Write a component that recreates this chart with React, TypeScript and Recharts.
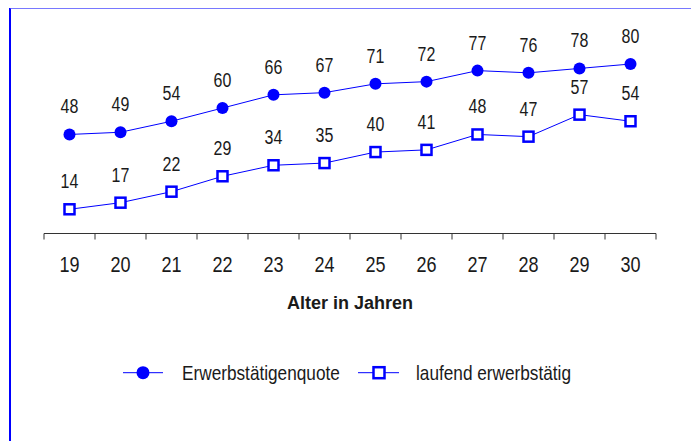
import { LabelList, Line, LineChart, XAxis, YAxis } from "recharts";

const ages = [19, 20, 21, 22, 23, 24, 25, 26, 27, 28, 29, 30];
const erwerbsquote = [48, 49, 54, 60, 66, 67, 71, 72, 77, 76, 78, 80];
const laufend = [14, 17, 22, 29, 34, 35, 40, 41, 48, 47, 57, 54];
const seriesNames = ["Erwerbstätigenquote", "laufend erwerbstätig"];

const data = ages.map((age, i) => ({ age, quote: erwerbsquote[i], laufend: laufend[i] }));
// boundary ticks between the age categories
const boundaryTicks = [...ages.map((a) => a - 0.5), ages[ages.length - 1] + 0.5];

const BLUE = "#0000ff";
const SANS = '"Liberation Sans", Arial, sans-serif';
const TEXT = "#1a1a1a";
const SQUEEZE = 0.82; // Arial squeezed to look like Arial Narrow

// narrow-looking text: Liberation Sans scaled horizontally
function NarrowText({ x, y, size, anchor = "middle", dy, children }: any) {
  return (
    <text
      transform={`translate(${x},${y}) scale(${SQUEEZE},1)`}
      textAnchor={anchor}
      dy={dy}
      fontSize={size}
      fontFamily={SANS}
      fill={TEXT}
    >
      {children}
    </text>
  );
}

function PointLabel(props: any) {
  const vb = props.viewBox || {};
  const x = vb.x ?? props.x;
  const y = vb.y ?? props.y;
  if (x == null || y == null) return null;
  return (
    <NarrowText x={x} y={y - 21} size={19.5}>
      {props.value}
    </NarrowText>
  );
}

function AgeTick(props: any) {
  const { x, y, payload } = props;
  return (
    <NarrowText x={x} y={y} size={22} dy="0.71em">
      {payload.value}
    </NarrowText>
  );
}

function SquareDot(props: any) {
  const { cx, cy } = props;
  if (cx == null || cy == null) return null;
  return <rect x={cx - 5} y={cy - 5} width={10} height={10} fill="#fff" stroke={BLUE} strokeWidth={2.5} />;
}

export default function App() {
  return (
    <div style={{ position: "relative", width: 691, height: 433 }}>
      <style>{"body{overflow:hidden}"}</style>
      <div
        style={{
          position: "absolute",
          left: 1,
          top: -1,
          width: 690,
          height: 434,
          borderLeft: `2px solid ${BLUE}`,
          borderTop: "2px solid #7878ff",
          boxSizing: "border-box",
        }}
      />
      <div style={{ position: "absolute", left: 0, top: 0 }}>
        <LineChart width={691} height={433} data={data} margin={{ top: 12, right: 43, bottom: 132.5, left: 36 }}>
          <XAxis
            xAxisId="bounds"
            dataKey="age"
            type="number"
            domain={[18.5, 30.5]}
            ticks={boundaryTicks}
            tick={() => <g />}
            height={1}
            tickSize={6}
            stroke="#333"
          />
          <XAxis
            xAxisId="labels"
            dataKey="age"
            type="number"
            domain={[18.5, 30.5]}
            ticks={ages}
            height={74}
            axisLine={false}
            tickLine={false}
            tickSize={6}
            tickMargin={16}
            tick={<AgeTick />}
            label={{
              value: "Alter in Jahren",
              position: "insideBottom",
              offset: 0,
              style: { fontSize: 18, fontWeight: "bold", fontFamily: SANS, fill: TEXT },
            }}
          />
          <YAxis hide domain={[3, 100]} />
          <Line
            xAxisId="labels"
            dataKey="quote"
            name={seriesNames[0]}
            stroke={BLUE}
            strokeWidth={1}
            dot={{ r: 6, fill: BLUE, stroke: BLUE, strokeWidth: 0 }}
            activeDot={false}
            isAnimationActive={false}
          >
            <LabelList dataKey="quote" content={<PointLabel />} />
          </Line>
          <Line
            xAxisId="labels"
            dataKey="laufend"
            name={seriesNames[1]}
            stroke={BLUE}
            strokeWidth={1}
            dot={<SquareDot />}
            activeDot={false}
            isAnimationActive={false}
          >
            <LabelList dataKey="laufend" content={<PointLabel />} />
          </Line>
        </LineChart>
      </div>
      <svg width={691} height={60} style={{ position: "absolute", left: 0, top: 340 }}>
        <line x1={115} y1={24.7} x2={155} y2={24.7} stroke={BLUE} strokeWidth={1} />
        <circle cx={135} cy={24.7} r={6.5} fill={BLUE} />
        <NarrowText x={174} y={32.2} size={21} anchor="start">
          {seriesNames[0]}
        </NarrowText>
        <line x1={350} y1={24.7} x2={391} y2={24.7} stroke={BLUE} strokeWidth={1} />
        <rect x={365.5} y={19.2} width={11} height={11} fill="#fff" stroke={BLUE} strokeWidth={2.5} />
        <NarrowText x={408} y={32.2} size={21} anchor="start">
          {seriesNames[1]}
        </NarrowText>
      </svg>
    </div>
  );
}
